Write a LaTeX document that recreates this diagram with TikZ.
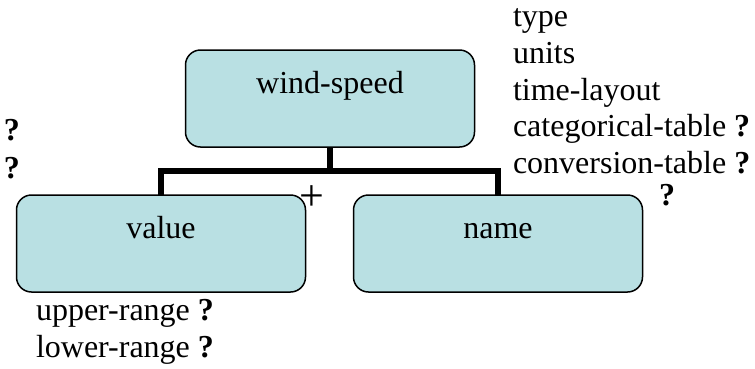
\documentclass[tikz,border=0pt]{standalone}
\usepackage{fontspec}
\setmainfont{Liberation Serif}
\definecolor{boxfill}{RGB}{185,224,227}
\begin{document}
\begin{tikzpicture}[x=1pt,y=-1pt,
  every node/.style={inner sep=0pt,outer sep=0pt},
  txt/.style={anchor=base west,font=\fontsize{32}{36}\selectfont},
  qm/.style={anchor=base west,font=\fontsize{32}{36}\selectfont\bfseries},
  entity/.style={draw=black,line width=1.5pt,fill=boxfill,rounded corners=15pt,
    minimum width=289pt,text height=43.5pt,text depth=53.5pt,anchor=north,
    font=\fontsize{32}{36}\selectfont},
  conn/.style={line width=5.5pt,line join=miter}]
\useasboundingbox (0,0) rectangle (755,368);
% boxes
\node[entity] (ws) at (330,50) {wind-speed};
\node[entity] (val) at (161,195) {value};
\node[entity] (nm) at (498,195) {name};
% connectors
\draw[conn] (ws.south) -- (330,171) coordinate (j);
\draw[conn] (val.north) |- (j) -| (nm.north);
% plus
\node[anchor=center,font=\fontsize{44}{48}\selectfont] (plus) at (312,198) {+};
% left question marks
\node[qm] (q1) at (4,140) {?};
\node[qm] (q2) at (4,178) {?};
% right attribute list
\node[txt] (a1) at (513,26.7) {type};
\node[txt] (a2) at (513,63.3) {units};
\node[txt] (a3) at (513,100) {time-layout};
\node[txt] (a4) at (513,136.7) {categorical-table \textbf{?}};
\node[txt] (a5) at (513,173.3) {conversion-table \textbf{?}};
\node[qm,anchor=base] (q3) at (667,205) {?};
% bottom list
\node[txt] (b1) at (36,320) {upper-range \textbf{?}};
\node[txt] (b2) at (36,357) {lower-range \textbf{?}};
\end{tikzpicture}
\end{document}
